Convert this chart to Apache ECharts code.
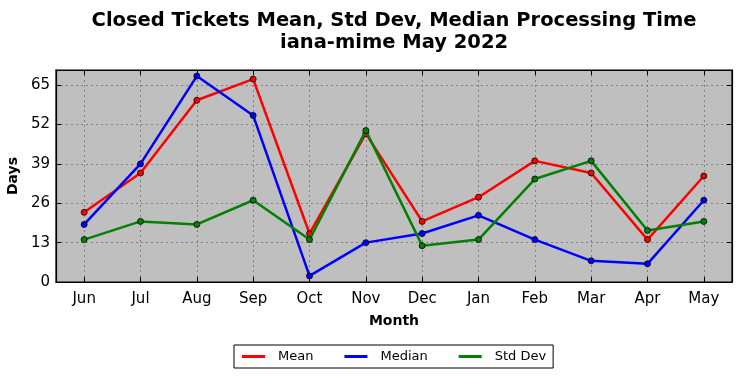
<!DOCTYPE html>
<html><head><meta charset="utf-8">
<script src="https://cdn.jsdelivr.net/npm/echarts@6/dist/echarts.min.js"></script>
<style>html,body{margin:0;padding:0;background:#fff}#c{width:742px;height:378px}</style>
</head><body><div id="c"></div>
<script>
const months = ['Jun','Jul','Aug','Sep','Oct','Nov','Dec','Jan','Feb','Mar','Apr','May'];
const meanVals = [23,36,60,67,16,49,20,28,40,36,14,35];
const medianVals = [19,39,68,55,2,13,16,22,14,7,6,27];
const stdVals = [14,20,19,27,14,50,12,14,34,40,17,20];
const yTicks = [0,13,26,39,52,65];

const font = 'DejaVu Sans';
const idx = months.map((m,i)=>i);
function ser(name, data, color){
  return {name, type:'line', data: data.map((v,i)=>[i,v]), symbol:'circle', symbolSize:6,
    lineStyle:{color, width:2.5}, itemStyle:{color, borderColor:'#000', borderWidth:0.8},
    emphasis:{disabled:true}, z: name==='Std Dev'?3:(name==='Median'?2:1)};
}
const axisBase = {
  axisLine:{show:true, onZero:false, lineStyle:{color:'#000', width:1.2}},
  axisTick:{show:true, inside:true, length:5, lineStyle:{color:'#000'}}
};
const chart = echarts.init(document.getElementById('c'), null, {renderer:'canvas'});
chart.setOption({
  animation:false,
  backgroundColor:'#fff',
  title:{text:'Closed Tickets Mean, Std Dev, Median Processing Time\niana-mime May 2022', left:389, textAlign:'center', top:5,
    textStyle:{fontFamily:font, fontSize:19.5, fontWeight:'bold', color:'#000', lineHeight:22}},
  legend:{bottom:10, left:234, data:['Mean','Median','Std Dev'], icon:'rect', itemWidth:23, itemHeight:3, itemGap:31,
    itemStyle:{borderWidth:0},
    borderColor:'#000', borderWidth:1, padding:[5,7,5,8], borderRadius:0,
    textStyle:{fontFamily:font, fontSize:13, color:'#000', padding:[0,0,0,8]}},
  grid:{left:56, right:10, top:70, bottom:96, outerBoundsMode:'none', containLabel:false, show:true, backgroundColor:'#bfbfbf', borderColor:'#000', borderWidth:1.2},
  xAxis:[{type:'value', min:-0.5, max:11.5, name:'Month', nameLocation:'middle', nameGap:32,
    nameTextStyle:{fontFamily:font, fontSize:14, fontWeight:'bold', color:'#000'},
    ...axisBase,
    axisTick:{show:true, inside:true, length:5, lineStyle:{color:'#000'}, customValues:idx},
    axisLabel:{fontFamily:font, fontSize:15, color:'#000', margin:10, customValues:idx, formatter:v=>months[Math.round(v)]},
    splitLine:{show:true, lineStyle:{color:'#808080', type:[2,3], width:1}}},
   {type:'value', min:-0.5, max:11.5, position:'top',
    ...axisBase,
    axisTick:{show:true, inside:true, length:5, lineStyle:{color:'#000'}, customValues:idx},
    axisLabel:{show:false, customValues:idx}, splitLine:{show:false}}],
  yAxis:[{type:'value', min:0, max:70, name:'Days', nameLocation:'middle', nameGap:30, nameRotate:90,
    nameTextStyle:{fontFamily:font, fontSize:14, fontWeight:'bold', color:'#000'},
    ...axisBase,
    axisTick:{show:true, inside:true, length:5, lineStyle:{color:'#000'}, customValues:yTicks},
    axisLabel:{fontFamily:font, fontSize:15, color:'#000', margin:6, customValues:yTicks},
    splitLine:{show:true, lineStyle:{color:'#808080', type:[2,3], width:1}}},
   {type:'value', min:0, max:70, position:'right',
    ...axisBase,
    axisTick:{show:true, inside:true, length:5, lineStyle:{color:'#000'}, customValues:yTicks},
    axisLabel:{show:false, customValues:yTicks}, splitLine:{show:false}}],
  series:[ser('Mean', meanVals, '#ff0000'), ser('Median', medianVals, '#0000ff'), ser('Std Dev', stdVals, '#008000')]
});
</script></body></html>
